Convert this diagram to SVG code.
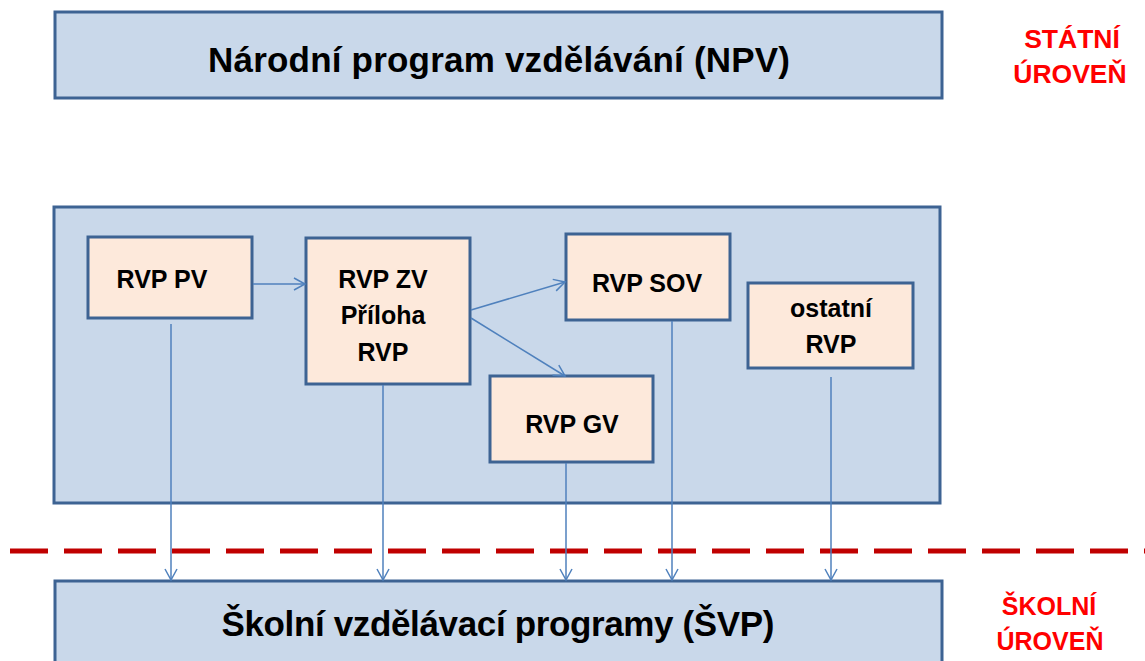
<svg xmlns="http://www.w3.org/2000/svg" width="1145" height="661" viewBox="0 0 1145 661">
<style>
.big{fill:#c9d8ea;stroke:#3d6393;stroke-width:3}
.sm{fill:#fde9db;stroke:#3d6393;stroke-width:3}
.t{font-family:"Liberation Sans",Arial,sans-serif;font-weight:bold;fill:#000;text-anchor:middle}
.tt{font-size:35px}
.ts{font-size:25px}
.red{font-family:"Liberation Sans",Arial,sans-serif;font-weight:bold;fill:#ff0000;text-anchor:middle;font-size:25px}
.c{fill:none;stroke:#4f81bd;stroke-width:1.5}
</style>
<defs>
<marker id="a" markerUnits="userSpaceOnUse" markerWidth="14" markerHeight="14" refX="12" refY="7" orient="auto">
<path d="M1,1 L12,7 L1,13" fill="none" stroke="#4f81bd" stroke-width="1.5"/>
</marker>
</defs>
<rect width="1145" height="661" fill="#fff"/>
<g id="npv">
<rect class="big" x="55" y="12" width="887" height="86"/>
<text class="t tt" x="499" y="72" textLength="582">Národní program vzdělávání (NPV)</text>
</g>
<g id="statni">
<text class="red" x="1072" y="48" style="font-size:26.5px">STÁTNÍ</text>
<text class="red" x="1070" y="83" style="font-size:26.5px">ÚROVEŇ</text>
</g>
<g id="rvp">
<rect class="big" x="54" y="207" width="886" height="296"/>
</g>
<g id="sep">
<line x1="10" y1="551" x2="1145" y2="551" stroke="#c00000" stroke-width="5" stroke-dasharray="38 16"/>
</g>
<g id="svp">
<rect class="big" x="55" y="581" width="887" height="100"/>
<text class="t tt" x="498" y="636" textLength="553">Školní vzdělávací programy (ŠVP)</text>
</g>
<g id="skolni">
<text class="red" x="1049" y="615">ŠKOLNÍ</text>
<text class="red" x="1050" y="650">ÚROVEŇ</text>
</g>
<g id="pv">
<rect class="sm" x="88" y="237" width="164" height="81"/>
<text class="t ts" x="162" y="288">RVP PV</text>
</g>
<g id="zv">
<rect class="sm" x="306" y="238" width="164" height="146"/>
<text class="t ts" x="383" y="288">RVP ZV</text>
<text class="t ts" x="383" y="324">Příloha</text>
<text class="t ts" x="383" y="361">RVP</text>
</g>
<g id="sov">
<rect class="sm" x="566" y="234" width="164" height="86"/>
<text class="t ts" x="647" y="292">RVP SOV</text>
</g>
<g id="ostatni">
<rect class="sm" x="748" y="283" width="165" height="85"/>
<text class="t ts" x="831" y="317">ostatní</text>
<text class="t ts" x="831" y="353">RVP</text>
</g>
<g id="gv">
<rect class="sm" x="490" y="376" width="163" height="86"/>
<text class="t ts" x="572" y="433">RVP GV</text>
</g>
<g id="connectors">
<path class="c" d="M253,284 L305,284" marker-end="url(#a)"/>
<path class="c" d="M471,310 L565,282" marker-end="url(#a)"/>
<path class="c" d="M471,318 L565,376" marker-end="url(#a)"/>
<path class="c" d="M171,324 L171,580" marker-end="url(#a)"/>
<path class="c" d="M383,385 L383,580" marker-end="url(#a)"/>
<path class="c" d="M566,463 L566,580" marker-end="url(#a)"/>
<path class="c" d="M672,321 L672,580" marker-end="url(#a)"/>
<path class="c" d="M831,377 L831,580" marker-end="url(#a)"/>
</g>
</svg>
